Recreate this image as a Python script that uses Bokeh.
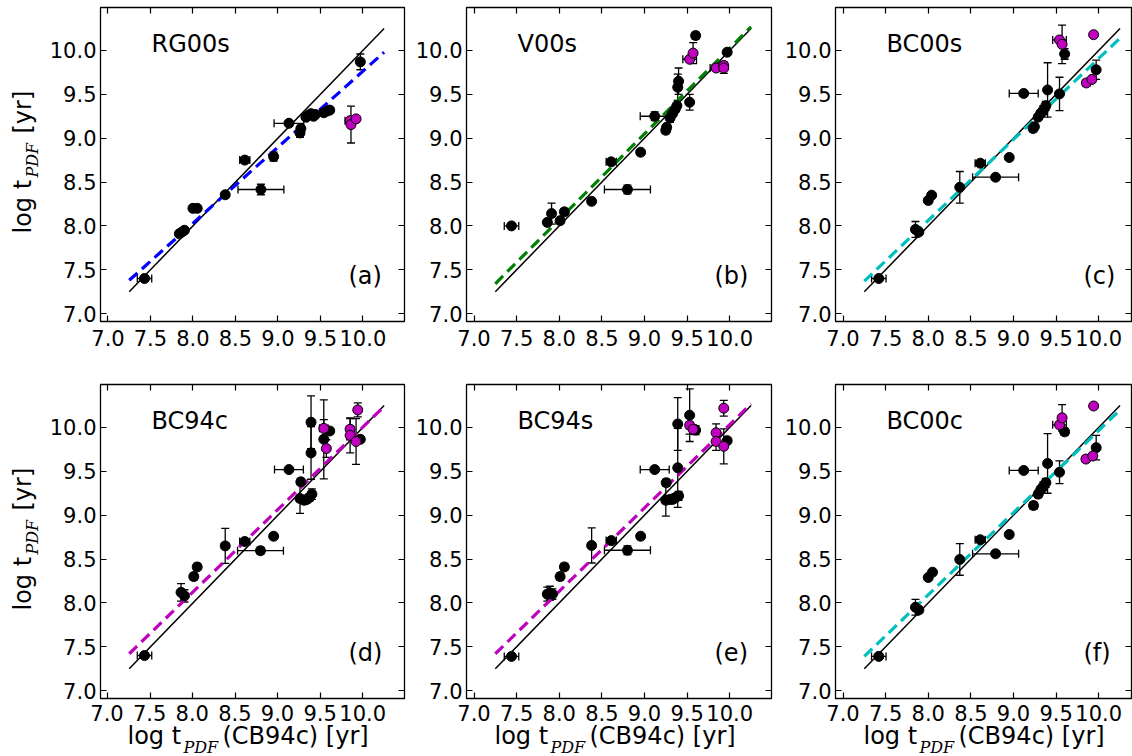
import math
from bokeh.plotting import figure
from bokeh.models import (Range1d, ColumnDataSource, Whisker, TeeHead, Label,
                          LinearAxis, FixedTicker, NumeralTickFormatter,
                          CustomJSTickFormatter, Spacer)
from bokeh.layouts import row, column
from bokeh.embed import file_html
from bokeh.resources import INLINE

# ---------------- data ----------------
tick_values = [7.0, 7.5, 8.0, 8.5, 9.0, 9.5, 10.0]
tick_labels = ["7.0", "7.5", "8.0", "8.5", "9.0", "9.5", "10.0"]
panel_names = ["RG00s", "V00s", "BC00s", "BC94c", "BC94s", "BC00c"]
panel_tags = ["(a)", "(b)", "(c)", "(d)", "(e)", "(f)"]
fit_colors = ["#0000ff", "#008000", "#00bfbf", "#bf00bf", "#bf00bf", "#00bfbf"]
one_to_one = [7.25, 10.25]
fit_x = [7.25, 10.25]
fit_a = [7.38, 9.98]
fit_b = [7.34, 10.27]
fit_c = [7.37, 10.14]
fit_d = [7.42, 10.24]
fit_e = [7.42, 10.27]
fit_f = [7.39, 10.20]

# panel (a) RG00s
a_x = [7.43, 7.84, 7.87, 7.90, 8.00, 8.05, 8.38, 8.61, 8.80, 8.95, 9.13, 9.26, 9.27, 9.33, 9.36, 9.39, 9.42, 9.44, 9.54, 9.58, 9.61, 9.97]
a_y = [7.40, 7.91, 7.93, 7.95, 8.20, 8.20, 8.355, 8.75, 8.415, 8.79, 9.17, 9.06, 9.11, 9.24, 9.26, 9.28, 9.25, 9.27, 9.29, 9.31, 9.32, 9.87]
a_xerr = [0.085, 0.03, 0.03, 0.03, 0.03, 0.03, 0.02, 0.06, 0.27, 0.03, 0.175, 0.03, 0.03, 0.03, 0.03, 0.03, 0.03, 0.03, 0.03, 0.03, 0.03, 0.02]
a_yerr = [0.02, 0.03, 0.03, 0.03, 0.03, 0.03, 0.03, 0.03, 0.06, 0.05, 0.03, 0.05, 0.03, 0.03, 0.03, 0.03, 0.03, 0.03, 0.03, 0.03, 0.03, 0.09]
a_mx = [9.85, 9.86, 9.92]
a_my = [9.20, 9.155, 9.22]
a_mxerr = [0.06, 0.03, 0.03]
a_myerr = [0.03, 0.21, 0.03]

# panel (b) V00s
b_x = [7.44, 7.86, 7.91, 8.01, 8.06, 8.38, 8.61, 8.80, 8.955, 9.12, 9.25, 9.26, 9.30, 9.33, 9.36, 9.38, 9.39, 9.40, 9.53, 9.60, 9.97]
b_y = [8.00, 8.04, 8.14, 8.06, 8.16, 8.28, 8.73, 8.415, 8.84, 9.25, 9.09, 9.125, 9.23, 9.28, 9.33, 9.37, 9.58, 9.65, 9.41, 10.17, 9.98]
b_xerr = [0.085, 0.03, 0.03, 0.03, 0.03, 0.03, 0.06, 0.27, 0.03, 0.17, 0.04, 0.03, 0.03, 0.03, 0.03, 0.03, 0.02, 0.02, 0.03, 0.03, 0.03]
b_yerr = [0.02, 0.03, 0.12, 0.03, 0.03, 0.03, 0.03, 0.05, 0.03, 0.05, 0.03, 0.03, 0.05, 0.03, 0.03, 0.03, 0.15, 0.15, 0.09, 0.04, 0.03]
b_mx = [9.53, 9.57, 9.84, 9.93, 9.93]
b_my = [9.90, 9.97, 9.80, 9.83, 9.80]
b_mxerr = [0.08, 0.03, 0.07, 0.03, 0.03]
b_myerr = [0.03, 0.12, 0.03, 0.04, 0.06]

# panel (c) BC00s
c_x = [7.42, 7.85, 7.89, 8.00, 8.04, 8.37, 8.61, 8.79, 8.95, 9.12, 9.23, 9.245, 9.29, 9.32, 9.35, 9.38, 9.40, 9.54, 9.60, 9.97]
c_y = [7.40, 7.96, 7.93, 8.29, 8.35, 8.44, 8.715, 8.555, 8.78, 9.51, 9.11, 9.13, 9.24, 9.285, 9.32, 9.37, 9.55, 9.505, 9.96, 9.78]
c_xerr = [0.085, 0.03, 0.03, 0.03, 0.03, 0.02, 0.06, 0.27, 0.03, 0.17, 0.04, 0.03, 0.03, 0.03, 0.03, 0.03, 0.02, 0.02, 0.03, 0.03]
c_yerr = [0.02, 0.09, 0.03, 0.03, 0.03, 0.18, 0.03, 0.03, 0.03, 0.03, 0.03, 0.03, 0.03, 0.03, 0.05, 0.05, 0.31, 0.19, 0.06, 0.11]
c_mx = [9.54, 9.57, 9.855, 9.92, 9.94]
c_my = [10.12, 10.07, 9.63, 9.67, 10.18]
c_mxerr = [0.08, 0.03, 0.04, 0.03, 0.02]
c_myerr = [0.03, 0.22, 0.03, 0.03, 0.03]

# panel (d) BC94c
d_x = [7.43, 7.86, 7.90, 8.01, 8.05, 8.38, 8.61, 8.795, 8.95, 9.13, 9.27, 9.26, 9.31, 9.34, 9.37, 9.40, 9.39, 9.39, 9.54, 9.61, 9.97]
d_y = [7.40, 8.12, 8.08, 8.30, 8.41, 8.65, 8.70, 8.595, 8.76, 9.52, 9.38, 9.19, 9.17, 9.18, 9.20, 9.24, 10.06, 9.71, 9.865, 9.96, 9.865]
d_xerr = [0.085, 0.03, 0.03, 0.03, 0.03, 0.02, 0.06, 0.27, 0.03, 0.17, 0.03, 0.04, 0.03, 0.03, 0.03, 0.03, 0.02, 0.02, 0.02, 0.03, 0.03]
d_yerr = [0.02, 0.10, 0.07, 0.04, 0.04, 0.20, 0.03, 0.04, 0.03, 0.02, 0.04, 0.17, 0.04, 0.04, 0.04, 0.06, 0.30, 0.30, 0.45, 0.03, 0.03]
d_mx = [9.54, 9.57, 9.85, 9.85, 9.92, 9.94]
d_my = [9.99, 9.76, 9.98, 9.91, 9.84, 10.20]
d_mxerr = [0.05, 0.02, 0.04, 0.04, 0.02, 0.02]
d_myerr = [0.10, 0.10, 0.12, 0.20, 0.26, 0.08]

# panel (e) BC94s
e_x = [7.44, 7.86, 7.89, 7.92, 8.01, 8.06, 8.38, 8.61, 8.80, 8.955, 9.12, 9.255, 9.25, 9.30, 9.33, 9.36, 9.39, 9.39, 9.40, 9.53, 9.60, 9.97]
e_y = [7.39, 8.10, 8.11, 8.10, 8.30, 8.41, 8.655, 8.71, 8.60, 8.76, 9.52, 9.37, 9.17, 9.18, 9.18, 9.20, 10.04, 9.54, 9.22, 10.14, 9.97, 9.85]
e_xerr = [0.085, 0.03, 0.03, 0.03, 0.03, 0.03, 0.02, 0.06, 0.27, 0.03, 0.17, 0.03, 0.04, 0.03, 0.03, 0.03, 0.02, 0.02, 0.03, 0.02, 0.03, 0.03]
e_yerr = [0.02, 0.08, 0.08, 0.06, 0.04, 0.04, 0.20, 0.03, 0.05, 0.03, 0.02, 0.04, 0.18, 0.04, 0.04, 0.04, 0.30, 0.45, 0.05, 0.30, 0.05, 0.03]
e_mx = [9.53, 9.57, 9.84, 9.84, 9.93, 9.93]
e_my = [10.025, 9.98, 9.94, 9.84, 9.785, 10.22]
e_mxerr = [0.04, 0.03, 0.03, 0.03, 0.02, 0.02]
e_myerr = [0.10, 0.05, 0.10, 0.10, 0.20, 0.09]

# panel (f) BC00c
f_x = [7.42, 7.85, 7.89, 8.00, 8.05, 8.37, 8.61, 8.79, 8.95, 9.12, 9.235, 9.29, 9.32, 9.35, 9.38, 9.40, 9.54, 9.60, 9.97]
f_y = [7.39, 7.95, 7.92, 8.29, 8.35, 8.495, 8.72, 8.56, 8.78, 9.51, 9.11, 9.24, 9.29, 9.33, 9.37, 9.59, 9.49, 9.95, 9.77]
f_xerr = [0.085, 0.03, 0.03, 0.03, 0.03, 0.02, 0.06, 0.27, 0.03, 0.17, 0.04, 0.03, 0.03, 0.03, 0.03, 0.02, 0.02, 0.03, 0.03]
f_yerr = [0.02, 0.09, 0.03, 0.03, 0.03, 0.18, 0.03, 0.03, 0.03, 0.03, 0.04, 0.04, 0.04, 0.05, 0.05, 0.34, 0.13, 0.04, 0.14]
f_mx = [9.54, 9.57, 9.85, 9.93, 9.94]
f_my = [10.03, 10.11, 9.64, 9.675, 10.245]
f_mxerr = [0.08, 0.03, 0.04, 0.03, 0.02]
f_myerr = [0.03, 0.15, 0.03, 0.03, 0.03]

panels = [
    (a_x, a_y, a_xerr, a_yerr, a_mx, a_my, a_mxerr, a_myerr, fit_a),
    (b_x, b_y, b_xerr, b_yerr, b_mx, b_my, b_mxerr, b_myerr, fit_b),
    (c_x, c_y, c_xerr, c_yerr, c_mx, c_my, c_mxerr, c_myerr, fit_c),
    (d_x, d_y, d_xerr, d_yerr, d_mx, d_my, d_mxerr, d_myerr, fit_d),
    (e_x, e_y, e_xerr, e_yerr, e_mx, e_my, e_mxerr, e_myerr, fit_e),
    (f_x, f_y, f_xerr, f_yerr, f_mx, f_my, f_mxerr, f_myerr, fit_f),
]

# ---------------- styling / layout ----------------
FONT = "DejaVu Sans"
SUB_FONT = "DejaVu Serif"
FRAME_H = 314
X0, Y0, Y1 = 6.912, 6.91, 10.49
PX_PER_UNIT = 305 / (10.49 - 6.912)
YLAB_W = 46
col_left = [53, 60, 62]
col_right = [2, 2, 1]
col_frame = [305, 305, 296]
row_top = [7, 3]
row_bottom = [60, 5]
STRIP_H = 52


def add_errorbars(p, xs, ys, xe, ye):
    src = ColumnDataSource(dict(
        x=xs, y=ys,
        xl=[a - b for a, b in zip(xs, xe)], xu=[a + b for a, b in zip(xs, xe)],
        yl=[a - b for a, b in zip(ys, ye)], yu=[a + b for a, b in zip(ys, ye)]))
    for dim, base, lo, hi in (("width", "y", "xl", "xu"), ("height", "x", "yl", "yu")):
        w = Whisker(source=src, base=base, lower=lo, upper=hi, dimension=dim,
                    line_color="black", line_width=1.3,
                    lower_head=TeeHead(size=8, line_color="black", line_width=1.3),
                    upper_head=TeeHead(size=8, line_color="black", line_width=1.3))
        p.add_layout(w)


def style_axis(ax, labels=True):
    ax.ticker = FixedTicker(ticks=tick_values)
    ax.major_tick_in = 6
    ax.major_tick_out = 0
    ax.major_tick_line_color = "black"
    ax.major_tick_line_width = 1.2
    ax.minor_tick_line_color = None
    ax.axis_line_color = "black"
    if labels:
        ax.formatter = NumeralTickFormatter(format="0.0")
        ax.major_label_text_font = FONT
        ax.major_label_text_font_size = "21px"
        ax.major_label_text_color = "black"
    else:
        ax.formatter = CustomJSTickFormatter(code="return ''")
        ax.major_label_standoff = 0


def make_panel(i):
    r, c = divmod(i, 3)
    xs, ys, xe, ye, mx, my, mxe, mye, fit = panels[i]
    frame_w = col_frame[c]
    x1 = X0 + frame_w / PX_PER_UNIT
    width = col_left[c] + frame_w + col_right[c]
    height = row_top[r] + FRAME_H + row_bottom[r]
    p = figure(width=width, height=height, output_backend="svg", toolbar_location=None,
               x_range=Range1d(X0, x1), y_range=Range1d(Y0, Y1),
               min_border_left=col_left[c], min_border_right=col_right[c],
               min_border_top=row_top[r], min_border_bottom=row_bottom[r])
    p.xgrid.visible = False
    p.ygrid.visible = False
    p.outline_line_color = "black"
    p.outline_line_width = 1.3
    p.background_fill_color = "white"
    p.border_fill_color = "white"

    style_axis(p.yaxis[0], True)
    p.yaxis.major_label_standoff = 4
    style_axis(p.xaxis[0], r == 0)
    if r == 0:
        p.xaxis.major_label_standoff = 8

    for side in ("right", "above"):
        ax = LinearAxis()
        style_axis(ax, False)
        p.add_layout(ax, side)

    p.line(one_to_one, one_to_one, line_color="black", line_width=1.5)
    p.line(fit_x, fit, line_color=fit_colors[i], line_width=3.2, line_dash="11 6")

    add_errorbars(p, xs, ys, xe, ye)
    add_errorbars(p, mx, my, mxe, mye)
    p.scatter(xs, ys, size=10, fill_color="black", line_color="black")
    p.scatter(mx, my, size=10, fill_color="#bf00bf", line_color="black", line_width=1)

    p.add_layout(Label(x=51, y=292, x_units="screen", y_units="screen", text=panel_names[i],
                       text_font=FONT, text_font_size="24px", text_color="black",
                       text_baseline="top"))
    p.add_layout(Label(x=248, y=60, x_units="screen", y_units="screen", text=panel_tags[i],
                       text_font=FONT, text_font_size="24px", text_color="black",
                       text_baseline="top"))
    return p


def bare_fig(width, height, x_range, y_range, top=0, bottom=0):
    f = figure(width=width, height=height, output_backend="svg", toolbar_location=None,
               x_range=x_range, y_range=y_range, x_axis_location=None, y_axis_location=None,
               min_border_left=0, min_border_right=0, min_border_top=top,
               min_border_bottom=bottom)
    f.xgrid.visible = False
    f.ygrid.visible = False
    f.outline_line_color = None
    f.background_fill_color = "white"
    f.border_fill_color = "white"
    return f


def make_ylabel(r):
    height = row_top[r] + FRAME_H + row_bottom[r]
    f = bare_fig(YLAB_W, height, Range1d(0, YLAB_W), Range1d(0, FRAME_H),
                 top=row_top[r], bottom=row_bottom[r])
    ang = math.pi / 2
    f.add_layout(Label(x=8, y=88, text="log t", angle=ang, text_font=FONT,
                       text_font_size="24px", text_baseline="top", text_color="black"))
    f.add_layout(Label(x=22, y=144, text="PDF", angle=ang, text_font=SUB_FONT,
                       text_font_style="italic", text_font_size="16px",
                       text_baseline="top", text_color="black"))
    f.add_layout(Label(x=8, y=188, text="[yr]", angle=ang, text_font=FONT,
                       text_font_size="24px", text_baseline="top", text_color="black"))
    return f


def make_strip(c):
    width = col_left[c] + col_frame[c] + col_right[c]
    x1 = X0 + col_frame[c] / PX_PER_UNIT
    xr = Range1d(X0 - col_left[c] / PX_PER_UNIT, x1 + col_right[c] / PX_PER_UNIT)
    f = bare_fig(width, STRIP_H, xr, Range1d(-STRIP_H, 0))
    for tv, tl in zip(tick_values, tick_labels):
        f.add_layout(Label(x=tv, y=-1, text=tl, text_font=FONT, text_font_size="21px",
                           text_align="center", text_baseline="top", text_color="black"))
    f.add_layout(Label(x=X0, y=-18, x_offset=28, text="log t", text_font=FONT,
                       text_font_size="24px", text_baseline="top", text_color="black"))
    f.add_layout(Label(x=X0, y=-34, x_offset=84, text="PDF", text_font=SUB_FONT,
                       text_font_style="italic", text_font_size="16px",
                       text_baseline="top", text_color="black"))
    f.add_layout(Label(x=X0, y=-18, x_offset=123, text="(CB94c) [yr]", text_font=FONT,
                       text_font_size="24px", text_baseline="top", text_color="black"))
    return f


figs = [make_panel(i) for i in range(6)]
top_row = row(make_ylabel(0), *figs[:3])
bot_row = row(make_ylabel(1), *figs[3:])
strip_row = row(Spacer(width=YLAB_W, height=STRIP_H), *[make_strip(c) for c in range(3)])
layout = column(top_row, bot_row, strip_row)
open("out.html", "w").write(file_html(layout, INLINE))
